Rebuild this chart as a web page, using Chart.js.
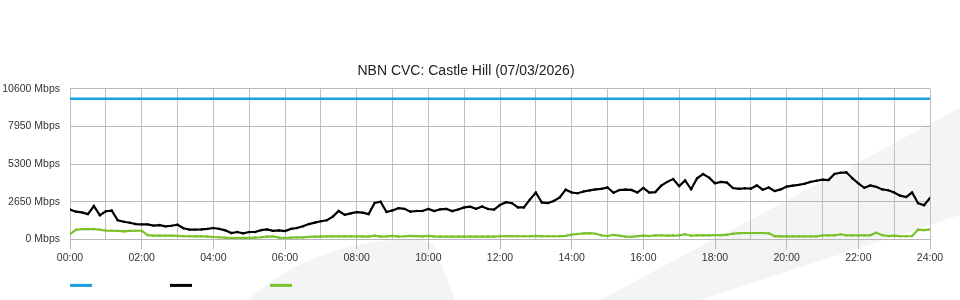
<!DOCTYPE html>
<html>
<head>
<meta charset="utf-8">
<script src="https://cdn.jsdelivr.net/npm/chart.js@4/dist/chart.umd.min.js"></script>
<style>
  html, body { margin: 0; padding: 0; background: #fff; }
  #wrap { width: 960px; height: 300px; position: relative; }
</style>
</head>
<body>
<div id="wrap"><canvas id="chartCvc"></canvas></div>
<script>
// time of day in hours, one sample every 10 minutes
var hours = [];
for (var k = 0; k <= 144; k++) hours.push(k / 6);

// CVC capacity (flat)
var capacityTimes = [0, 24];
var capacityMbps = [9900, 9900];

// download traffic, Mbps (one row per hour)
var downloadMbps = [
  2100, 1950, 1900, 1780, 2350, 1700,
  1980, 2030, 1350, 1240, 1170, 1080,
  1060, 1060, 970, 1010, 920, 960,
  1030, 780, 690, 690, 700, 740,
  800, 740, 640, 450, 520, 430,
  520, 520, 650, 700, 600, 630,
  590, 740, 800, 930, 1080, 1180,
  1280, 1350, 1600, 2000, 1730, 1830,
  1920, 1880, 1780, 2560, 2650, 1930,
  2040, 2200, 2150, 1950, 2000, 2000,
  2150, 2000, 2120, 2150, 1990, 2100,
  2250, 2300, 2150, 2320, 2140, 2100,
  2420, 2620, 2550, 2250, 2250, 2800,
  3300, 2600, 2560, 2700, 2950, 3500,
  3300, 3250, 3370, 3450, 3520, 3560,
  3650, 3280, 3480, 3510, 3480, 3300,
  3620, 3300, 3330, 3780, 4050, 4250,
  3750, 4150, 3530, 4300, 4600, 4350,
  3950, 4050, 4000, 3620, 3560, 3600,
  3570, 3800, 3500, 3650, 3400, 3520,
  3720, 3780, 3840, 3920, 4050, 4130,
  4200, 4180, 4600, 4690, 4720, 4300,
  3950, 3630, 3800, 3700, 3520, 3460,
  3300, 3080, 2980, 3300, 2550, 2400,
  2920
];

// upload traffic, Mbps
var uploadMbps = [
  380, 680, 720, 730, 730, 680,
  620, 610, 600, 560, 600, 610,
  610, 300, 260, 260, 260, 260,
  250, 230, 220, 210, 220, 200,
  170, 150, 120, 100, 100, 110,
  110, 130, 150, 200, 210, 120,
  100, 130, 140, 140, 180, 190,
  200, 210, 210, 210, 210, 210,
  210, 210, 200, 260, 200, 210,
  250, 200, 220, 250, 230, 210,
  250, 210, 200, 200, 200, 200,
  200, 200, 200, 200, 200, 200,
  220, 230, 230, 220, 220, 220,
  250, 220, 220, 220, 230, 250,
  330, 380, 420, 440, 400, 280,
  240, 320, 260, 200, 180, 230,
  260, 240, 280, 280, 260, 270,
  290, 360, 260, 290, 290, 290,
  300, 300, 330, 400, 440, 450,
  450, 450, 450, 430, 230, 210,
  210, 210, 210, 210, 210, 210,
  280, 280, 290, 360, 290, 280,
  280, 290, 290, 480, 300, 240,
  260, 220, 220, 240, 680, 660,
  700
];

var yStep = 2650;
var yMax = 10600;

var capacityPoints = capacityTimes.map(function (t, i) { return { x: t, y: capacityMbps[i] }; });

function pad2(n) { return (n < 10 ? '0' : '') + n; }

// faint watermark shapes behind the chart
var watermark = {
  id: 'watermark',
  beforeDraw: function (chart) {
    var c = chart.ctx;
    c.save();
    c.fillStyle = '#f3f4f6';
    c.beginPath();
    c.moveTo(248, 300);
    c.bezierCurveTo(290, 262, 340, 243, 405, 239);
    c.quadraticCurveTo(432, 238, 436, 250);
    c.lineTo(455, 300);
    c.closePath();
    c.fill();
    c.beginPath();
    c.moveTo(600, 300);
    c.lineTo(960, 108);
    c.lineTo(960, 215);
    c.lineTo(700, 300);
    c.closePath();
    c.fill();
    c.restore();
  }
};

// legend as bare coloured strokes under the plot
var strokeLegend = {
  id: 'strokeLegend',
  afterDraw: function (chart) {
    var c = chart.ctx;
    var y = chart.chartArea.bottom + 46;
    c.save();
    c.lineWidth = 3;
    chart.data.datasets.forEach(function (ds, i) {
      var x0 = chart.chartArea.left + i * 100;
      c.strokeStyle = ds.borderColor;
      c.beginPath();
      c.moveTo(x0, y);
      c.lineTo(x0 + 22, y);
      c.stroke();
    });
    c.restore();
  }
};

Chart.defaults.font.family = '"Liberation Sans", Arial, sans-serif';
Chart.defaults.font.size = 10.5;
Chart.defaults.color = '#333';

var chartCvc = new Chart(document.getElementById('chartCvc'), {
  type: 'line',
  data: {
    labels: hours,
    datasets: [
      {
        label: 'Capacity',
        data: capacityPoints,
        borderColor: '#1a9fe0',
        backgroundColor: '#1a9fe0',
        borderWidth: 2.5,
        pointRadius: 0
      },
      {
        label: 'Download',
        data: downloadMbps,
        borderColor: '#000000',
        backgroundColor: '#000000',
        borderWidth: 2.2,
        pointRadius: 1.2,
        pointBorderWidth: 0
      },
      {
        label: 'Upload',
        data: uploadMbps,
        borderColor: '#7cc02a',
        backgroundColor: '#7cc02a',
        borderWidth: 2.2,
        pointRadius: 1.2,
        pointBorderWidth: 0
      }
    ]
  },
  options: {
    responsive: true,
    maintainAspectRatio: false,
    animation: false,
    layout: { padding: { left: 2, right: 30, top: 0, bottom: 34 } },
    plugins: {
      legend: { display: false },
      tooltip: { enabled: false },
      title: {
        display: true,
        text: 'NBN CVC: Castle Hill (07/03/2026)',
        color: '#222',
        font: { size: 14, weight: 'normal' },
        padding: { top: 63, bottom: 9 }
      }
    },
    scales: {
      x: {
        type: 'linear',
        min: 0,
        max: 24,
        grid: {
          color: '#c0c0c0',
          tickLength: 10,
          tickColor: function (ctx) {
            return ctx.tick && ctx.tick.value % 2 === 0 ? '#b8b8b8' : 'rgba(0,0,0,0)';
          }
        },
        border: { color: '#b8b8b8' },
        ticks: {
          stepSize: 1,
          autoSkip: false,
          maxRotation: 0,
          padding: 2,
          callback: function (v) { return v % 2 === 0 ? pad2(v) + ':00' : ''; }
        }
      },
      y: {
        min: 0,
        max: yMax,
        afterFit: function (scale) { scale.width = 68; },
        grid: { color: '#b8b8b8', drawTicks: false },
        border: { display: false },
        ticks: {
          stepSize: yStep,
          padding: 10,
          callback: function (v) { return v + ' Mbps'; }
        }
      }
    }
  },
  plugins: [watermark, strokeLegend]
});
</script>
</body>
</html>
